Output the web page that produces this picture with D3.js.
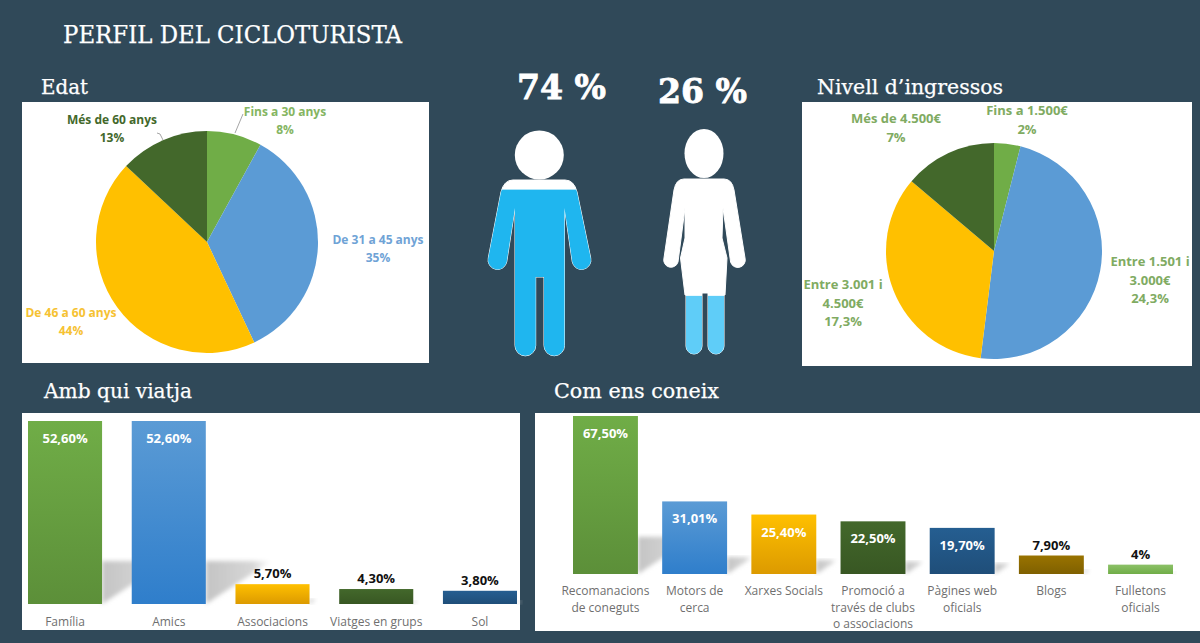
<!DOCTYPE html>
<html>
<head>
<meta charset="utf-8">
<script src="https://cdn.jsdelivr.net/npm/d3@7"></script>
<style>
  html, body { margin: 0; padding: 0; background: #304959; overflow: hidden; }
  svg { display: block; }
  .heading { font-family: 'DejaVu Serif', serif; fill: #fff; stroke: #fff; stroke-width: 0.25px; }
  .lbl { font-family: 'Open Sans', sans-serif; font-weight: 700; font-size: 12px; text-anchor: middle; }
  .cat { font-family: 'Open Sans', sans-serif; font-size: 12px; fill: #6f6f6f; text-anchor: middle; }
</style>
</head>
<body>
<svg id="chart" width="1200" height="643"></svg>
<script>
// Edat
const ageCats = ['Fins a 30 anys', 'De 31 a 45 anys', 'De 46 a 60 anys', 'Més de 60 anys'];
const ageVals = [8, 35, 44, 13];
const ageText = ['8%', '35%', '44%', '13%'];

// Nivell d'ingressos
const incomeCats = [['Fins a 1.500€'], ['Entre 1.501 i', '3.000€'], ['Entre 3.001 i', '4.500€'], ['Més de 4.500€']];
const incomeVals = [2, 24.3, 17.3, 7];
const incomeText = ['2%', '24,3%', '17,3%', '7%'];

// Amb qui viatja
const travelCats = ['Família', 'Amics', 'Associacions', 'Viatges en grups', 'Sol'];
const travelVals = [52.6, 52.6, 5.7, 4.3, 3.8];
const travelText = ['52,60%', '52,60%', '5,70%', '4,30%', '3,80%'];

// Com ens coneix
const knowCats = ['Recomanacions de coneguts', 'Motors de cerca', 'Xarxes Socials', 'Promoció a través de clubs o associacions', 'Pàgines web oficials', 'Blogs', 'Fulletons oficials'];
const knowLines = [['Recomanacions', 'de coneguts'], ['Motors de', 'cerca'], ['Xarxes Socials'], ['Promoció a', 'través de clubs', 'o associacions'], ['Pàgines web', 'oficials'], ['Blogs'], ['Fulletons', 'oficials']];
const knowVals = [67.5, 31.01, 25.4, 22.5, 19.7, 7.9, 4];
const knowText = ['67,50%', '31,01%', '25,40%', '22,50%', '19,70%', '7,90%', '4%'];

// Gender split
const genderVals = [74, 26];
const genderText = ['74 %', '26 %'];

const pieColors = ['#70ad47', '#5b9bd5', '#ffc000', '#43682b'];
const ageLabelColors = ['#85b562', '#6fa3d6', '#f6c233', '#43682b'];
const incomeLabelColor = '#80ab62';
const barTops = ['#70ad47', '#5b9bd5', '#ffc000', '#43682b', '#255e91', '#997300', '#8cc168'];
const barBottoms = ['#5c8f39', '#2f7ecb', '#dc9a00', '#385723', '#1f4e79', '#7f6000', '#70ad47'];

const svg = d3.select('#chart');
const defs = svg.append('defs');

defs.append('filter').attr('id', 'soft').append('feGaussianBlur').attr('stdDeviation', 2);
const sg = defs.append('linearGradient').attr('id', 'shadowFade');
sg.append('stop').attr('offset', 0).attr('stop-color', '#c4c4c4');
sg.append('stop').attr('offset', 0.7).attr('stop-color', '#d6d6d6');
sg.append('stop').attr('offset', 1).attr('stop-color', '#fff');

barTops.forEach((c, i) => {
  const g = defs.append('linearGradient').attr('id', 'bar' + i).attr('x2', 0).attr('y2', 1);
  g.append('stop').attr('offset', 0).attr('stop-color', c);
  g.append('stop').attr('offset', 1).attr('stop-color', barBottoms[i]);
});

function panel(x0, y0, x1, y1) {
  svg.append('rect').attr('x', x0).attr('y', y0)
    .attr('width', x1 - x0).attr('height', y1 - y0).attr('fill', '#fff');
}

function heading(txt, x, y, size, len) {
  svg.append('text').attr('class', 'heading').attr('x', x).attr('y', y)
    .attr('font-size', size).attr('textLength', len)
    .attr('lengthAdjust', 'spacingAndGlyphs').text(txt);
}

heading('PERFIL DEL CICLOTURISTA', 63, 43, 24, 339);
heading('Edat', 41, 94, 20, 47);
heading('Nivell d’ingressos', 817, 94, 20, 186);
heading('Amb qui viatja', 44, 398, 20, 148);
heading('Com ens coneix', 554, 398, 20, 165);

panel(22, 102, 429, 363);
panel(802, 102, 1192, 366);
panel(22, 413, 520, 630);
panel(535, 413, 1200, 631);

function drawPie(vals, cx, cy, r) {
  const arcs = d3.pie().sort(null)(vals);
  const arc = d3.arc().innerRadius(0).outerRadius(r);
  svg.append('g').attr('transform', `translate(${cx},${cy})`)
    .selectAll('path').data(arcs).join('path')
    .attr('d', arc)
    .attr('fill', (d, i) => pieColors[i]);
}

function drawLines(lines, x, y, gap, color, size) {
  lines.forEach((t, i) => {
    svg.append('text').attr('class', 'lbl').attr('x', x).attr('y', y + i * gap)
      .attr('fill', color).style('font-size', size + 'px').text(t);
  });
}

// pie label anchors
const agePos = [[285, 116], [378, 244], [71, 317], [112, 124]];
const incomePos = [[1027, 115], [1150, 266], [843, 289], [896, 123]];

drawPie(ageVals, 207, 242, 111);
ageCats.forEach((c, i) => drawLines([c, ageText[i]], agePos[i][0], agePos[i][1], 18, ageLabelColors[i], 12));
svg.append('path').attr('d', 'M243,114L235,133').attr('stroke', '#a6a6a6').attr('fill', 'none');
svg.append('path').attr('d', 'M157,133L160,134L163,140').attr('stroke', '#a6a6a6').attr('fill', 'none');

drawPie(incomeVals, 994, 251, 108);
incomeCats.forEach((c, i) => drawLines(c.concat(incomeText[i]), incomePos[i][0], incomePos[i][1], 18.5, incomeLabelColor, 13));

// bar charts share everything but their scales
function drawBars(cats, vals, text, lines, xRange, padding, yRange, lineGap, colorAt) {
  const x = d3.scaleBand().domain(cats).range(xRange).paddingInner(padding).paddingOuter(0);
  const y = d3.scaleLinear().domain([0, d3.max(vals)]).range(yRange);
  const g = svg.append('g');
  const base = y(0);

  g.selectAll('path.shadow').data(cats).join('path')
    .attr('class', 'shadow')
    .attr('fill', 'url(#shadowFade)')
    .attr('filter', 'url(#soft)')
    .attr('d', (c, i) => {
      const h = base - y(vals[i]);
      const r = x(c) + x.bandwidth();
      return `M${r},${base}L${r},${base - h * 0.235}L${r + h * 0.36},${base - h * 0.235}Z`;
    });

  g.selectAll('rect').data(cats).join('rect')
    .attr('x', c => x(c))
    .attr('y', (c, i) => y(vals[i]))
    .attr('width', x.bandwidth())
    .attr('height', (c, i) => base - y(vals[i]))
    .attr('fill', (c, i) => `url(#bar${colorAt[i]})`);

  g.selectAll('text.val').data(cats).join('text')
    .attr('class', 'lbl')
    .style('font-size', '13px')
    .attr('x', c => x(c) + x.bandwidth() / 2)
    .attr('y', (c, i) => vals[i] > 10 ? y(vals[i]) + 22 : y(vals[i]) - 6)
    .attr('fill', (c, i) => vals[i] > 10 ? '#fff' : '#111')
    .text((c, i) => text[i]);

  const axis = g.append('g').attr('transform', `translate(0,${base})`)
    .call(d3.axisBottom(x).tickSize(0).tickPadding(0));
  axis.select('.domain').remove();
  axis.selectAll('.tick text').each(function(c) {
    const sel = d3.select(this).attr('class', 'cat').attr('y', 0).attr('dy', null).text(null);
    lines[cats.indexOf(c)].forEach((t, k) => {
      sel.append('tspan').attr('x', 0).attr('y', lineGap[0] + k * lineGap[1]).text(t);
    });
  });
  axis.attr('font-family', null).attr('font-size', null);
}

drawBars(travelCats, travelVals, travelText, travelCats.map(c => [c]),
  [28, 517], 0.286, [604, 421], [22, 17], [0, 1, 2, 3, 4]);
drawBars(knowCats, knowVals, knowText, knowLines,
  [573, 1173], 0.272, [574, 416], [21, 16.5], [0, 1, 2, 3, 4, 5, 6]);

// figures: fill level comes from the share
const manPath = 'M513,180L565,180Q574,180 577,192L590.7,258A9.3,9.3 0 0 1 572.3,262L564.5,208L564.5,345.5A10.2,10.2 0 0 1 544,345.5L544,277L535.7,277L535.7,345.5A10.3,10.3 0 0 1 515,345.5L515,208L506.7,262A9.3,9.3 0 0 1 488.3,258L501,192Q504,180 513,180Z';
const womanPath = 'M684,179L724,179Q732,179 734,190L745,258A7.3,7.3 0 0 1 730.6,262L723,208L722,238L727,258L725,295L724,295L724,346A8,8 0 0 1 708,346L708,293L702,293L702,346A8,8 0 0 1 686,346L686,295L685,295L680.5,258L685,238L685,208L678,262A7.2,7.2 0 0 1 664,258L674,190Q676,179 684,179Z';

const figures = [
  { id: 'man', path: manPath, top: 131, bottom: 356.5, fill: '#1fb6ef', left: 480, w: 120 },
  { id: 'woman', path: womanPath, top: 129, bottom: 354.5, fill: '#5fcdf8', left: 655, w: 100 }
];

svg.append('circle').attr('cx', 539.3).attr('cy', 155).attr('r', 24.5).attr('fill', '#fff');
svg.append('ellipse').attr('cx', 704).attr('cy', 153.5).attr('rx', 19.5).attr('ry', 24.5).attr('fill', '#fff');

figures.forEach((f, i) => {
  const level = d3.scaleLinear().domain([0, 100]).range([f.bottom, f.top]);
  defs.append('clipPath').attr('id', 'clip-' + f.id).append('path').attr('d', f.path);
  svg.append('path').attr('d', f.path).attr('fill', '#fff').attr('stroke', '#fff').attr('stroke-width', 1);
  svg.append('rect').attr('clip-path', `url(#clip-${f.id})`)
    .attr('x', f.left).attr('width', f.w)
    .attr('y', level(genderVals[i]))
    .attr('height', f.bottom - level(genderVals[i]))
    .attr('fill', f.fill);
});

// big percentages
[[517, 99], [658, 103]].forEach((p, i) => {
  svg.append('text').attr('class', 'heading').attr('x', p[0]).attr('y', p[1])
    .attr('font-size', 33).attr('font-weight', 700).style('stroke-width', '0.8px')
    .attr('textLength', 89).attr('lengthAdjust', 'spacingAndGlyphs')
    .text(genderText[i]);
});
</script>
</body>
</html>
